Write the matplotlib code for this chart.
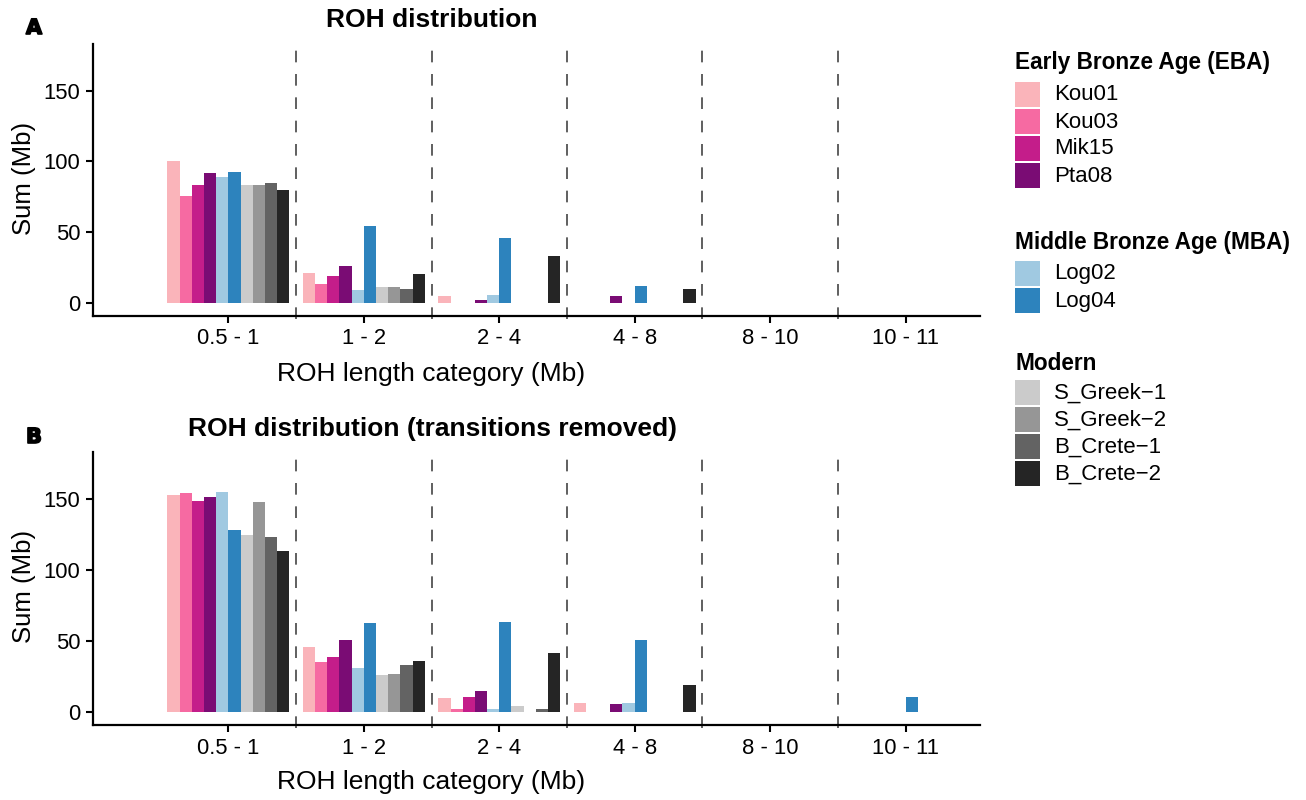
import numpy as np
import matplotlib
matplotlib.use("Agg")
from matplotlib import pyplot as plt
from matplotlib.patches import Rectangle
import matplotlib.patheffects as pe

plt.rcParams['font.family'] = ['Liberation Sans', 'DejaVu Sans']

categories = ["0.5 - 1", "1 - 2", "2 - 4", "4 - 8", "8 - 10", "10 - 11"]
samples = ["Kou01", "Kou03", "Mik15", "Pta08", "Log02", "Log04",
           "S_Greek\u22121", "S_Greek\u22122", "B_Crete\u22121", "B_Crete\u22122"]
colors = ["#FAB4BA", "#F66AA2", "#C41D8A", "#7A0C74", "#A0C9E1", "#2D83BD",
          "#CBCBCB", "#969696", "#636363", "#252525"]

# panel A: ROH distribution (rows = samples, cols = categories)
roh_a = [
    [100.0, 21.1, 4.7, 0.3, 0, 0],
    [75.8, 13.3, 0.3, 0.3, 0, 0],
    [83.6, 19.0, 0.3, 0.3, 0, 0],
    [91.9, 26.1, 1.9, 4.7, 0, 0],
    [89.3, 9.0, 5.5, 0.3, 0, 0],
    [92.9, 54.5, 46.0, 11.8, 0, 0],
    [83.6, 11.1, 0.3, 0.3, 0, 0],
    [83.6, 11.1, 0.3, 0.3, 0, 0],
    [85.1, 9.7, 0.3, 0.3, 0, 0],
    [80.1, 20.4, 33.2, 9.7, 0, 0],
]
# panel B: transitions removed
roh_b = [
    [152.7, 45.6, 9.5, 6.1, 0, 0],
    [154.1, 35.0, 2.4, 0.3, 0, 0],
    [148.5, 38.5, 10.2, 0.3, 0, 0],
    [151.3, 50.6, 14.4, 5.4, 0, 0],
    [154.8, 30.7, 2.4, 6.1, 0, 0],
    [127.9, 62.6, 63.4, 50.8, 0, 10.4],
    [124.3, 25.8, 4.5, 0.3, 0, 0],
    [147.8, 26.5, 0.3, 0.3, 0, 0],
    [122.9, 32.9, 2.4, 0.3, 0, 0],
    [113.0, 35.7, 41.4, 18.9, 0, 0],
]

groups = [("Early Bronze Age (EBA)", [0, 1, 2, 3]),
          ("Middle Bronze Age (MBA)", [4, 5]),
          ("Modern", [6, 7, 8, 9])]

fig = plt.figure(figsize=(13.06, 8), dpi=100)
W, H = 1306, 800

def panel(bottom_px, top_px, data, title, title_y, xlabel_y, letter, letter_y):
    ax = fig.add_axes([93 / W, 1 - bottom_px / H, (980 - 93) / W, (bottom_px - top_px) / H])
    x = np.arange(1, len(categories) + 1)
    w = 0.09
    for j, vals in enumerate(data):
        ax.bar(x + (j - 4.5) * w, vals, width=w, color=colors[j], linewidth=0)
    for k in range(1, len(categories)):
        ax.axvline(k + 0.5, ymin=-0.01, color="#444444", lw=1.2,
                   ls=(0, (7, 7)), clip_on=False)
    ax.set_xlim(0, 6.55)
    ax.set_ylim(-9.2, 183)
    ax.set_yticks([0, 50, 100, 150])
    ax.set_xticks(x)
    ax.set_xticklabels(categories)
    ax.tick_params(labelsize=15.8, width=1.5, length=5, color="black", pad=4)
    for s in ["top", "right"]:
        ax.spines[s].set_visible(False)
    for s in ["left", "bottom"]:
        ax.spines[s].set_linewidth(1.6)
    fig.text(432 / W, 1 - title_y / H, title, ha="center", va="center",
             fontsize=19, fontweight="bold")
    fig.text(431 / W, 1 - xlabel_y / H, "ROH length category (Mb)", ha="center",
             va="center", fontsize=19)
    fig.text(24 / W, 1 - ((bottom_px + top_px) / 2 - 2) / H, "Sum (Mb)",
             ha="center", va="center", rotation=90, fontsize=18.5)
    fig.text(34 / W, 1 - letter_y / H, letter, ha="center", va="center",
             fontsize=15, fontweight="heavy", family="DejaVu Sans",
             path_effects=[pe.withStroke(linewidth=1.2, foreground="black")])
    return ax

panel(316, 44, roh_a, "ROH distribution", 20, 374, "A", 28)
panel(725, 452, roh_b, "ROH distribution (transitions removed)", 429, 782, "B", 437)

# legend, drawn by hand to match the key spacing
title_ys = [62, 242, 363]
key_tops = [82, 261, 380]
for (gtitle, idx), ty, kt in zip(groups, title_ys, key_tops):
    fig.text(1015 / W, 1 - ty / H, gtitle, ha="left", va="center",
             fontsize=16.3, fontweight="bold")
    for r, i in enumerate(idx):
        top = kt + r * 27
        fig.patches.append(Rectangle((1015 / W, 1 - (top + 25) / H), 25 / W, 25 / H,
                                     transform=fig.transFigure, facecolor=colors[i],
                                     edgecolor="none"))
        fig.text(1054 / W, 1 - (top + 13) / H, samples[i], ha="left", va="center",
                 fontsize=16)

fig.savefig("out.png", dpi=100)
